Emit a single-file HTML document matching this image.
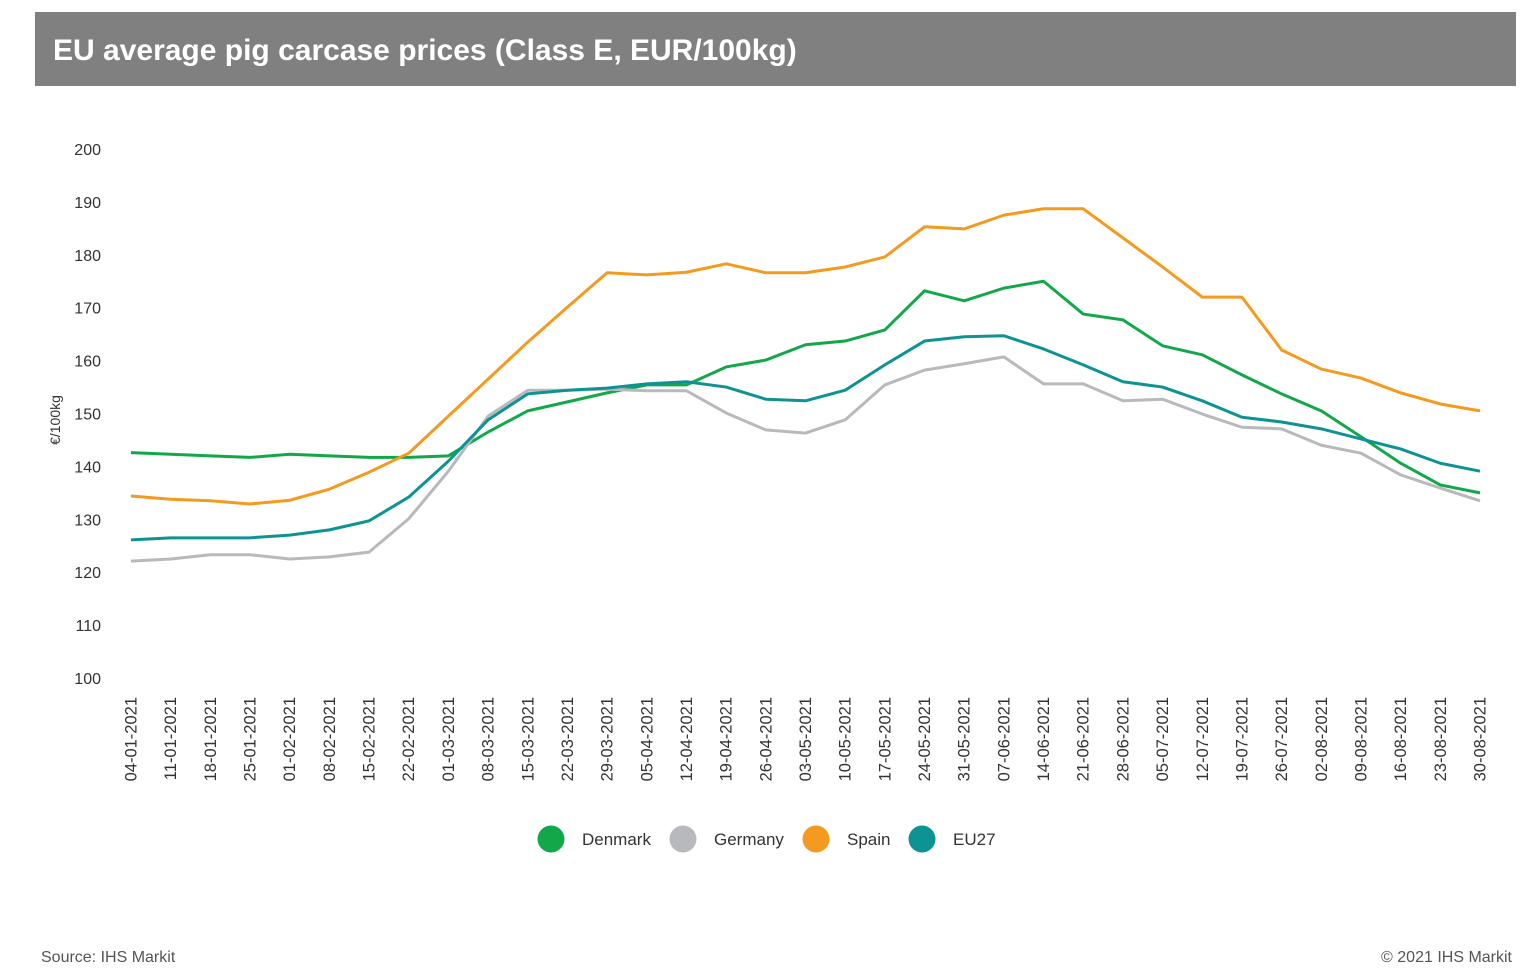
<!DOCTYPE html>
<html><head><meta charset="utf-8"><style>
body{margin:0;background:#fff;font-family:"Liberation Sans",Arial,sans-serif;}
svg{display:block}
</style></head><body>
<svg id="chart" width="1526" height="979" xmlns="http://www.w3.org/2000/svg">
<rect x="35" y="12" width="1481" height="74" fill="#808080"/>
<text x="53" y="60" fill="#fff" font-size="30" font-weight="bold" font-family="Liberation Sans, Arial, sans-serif">EU average pig carcase prices (Class E, EUR/100kg)</text>
<text transform="translate(60,420) rotate(-90)" text-anchor="middle" font-size="14" fill="#333">€/100kg</text>
<g id="yticks"></g><g id="xticks"></g><g id="lines"></g><g id="legend"></g>
<text x="41" y="962" font-size="16" fill="#555">Source: IHS Markit</text>
<text x="1512" y="962" font-size="16" fill="#555" text-anchor="end">© 2021 IHS Markit</text>
</svg>
<script>
const dates=["04-01-2021","11-01-2021","18-01-2021","25-01-2021","01-02-2021","08-02-2021","15-02-2021","22-02-2021","01-03-2021","08-03-2021","15-03-2021","22-03-2021","29-03-2021","05-04-2021","12-04-2021","19-04-2021","26-04-2021","03-05-2021","10-05-2021","17-05-2021","24-05-2021","31-05-2021","07-06-2021","14-06-2021","21-06-2021","28-06-2021","05-07-2021","12-07-2021","19-07-2021","26-07-2021","02-08-2021","09-08-2021","16-08-2021","23-08-2021","30-08-2021"];
const denmark=[142.6,142.3,142.0,141.7,142.3,142.0,141.7,141.7,142.0,146.5,150.5,152.2,153.9,155.4,155.4,158.8,160.1,163.0,163.7,165.8,173.2,171.3,173.7,175.0,168.8,167.7,162.8,161.1,157.3,153.7,150.5,145.6,140.6,136.5,135.0];
const germany=[122.1,122.5,123.3,123.3,122.5,122.9,123.8,130.1,139.1,149.5,154.4,154.4,154.6,154.3,154.3,150.1,146.9,146.3,148.8,155.4,158.2,159.4,160.7,155.6,155.6,152.4,152.7,149.9,147.4,147.1,144.0,142.5,138.4,135.9,133.5];
const spain=[134.4,133.8,133.5,132.9,133.6,135.7,138.9,142.5,149.5,156.5,163.5,170.1,176.6,176.2,176.7,178.3,176.6,176.6,177.7,179.6,185.3,184.9,187.5,188.7,188.7,183.2,177.7,172.0,172.0,162.0,158.4,156.7,153.9,151.8,150.5];
const eu27=[126.1,126.5,126.5,126.5,127.0,128.0,129.7,134.2,141.0,148.8,153.7,154.4,154.8,155.6,156.0,155.0,152.7,152.4,154.4,159.2,163.7,164.5,164.7,162.2,159.2,156.0,155.0,152.4,149.3,148.4,147.1,145.2,143.3,140.6,139.1];
const yTicks=[100,110,120,130,140,150,160,170,180,190,200];
const seriesNames=["Denmark","Germany","Spain","EU27"];
const seriesColors=["#12a84a","#b8b9bd","#f39a1f","#0e9394"];
const seriesData=[denmark,germany,spain,eu27];
const NS="http://www.w3.org/2000/svg";
const y=v=>678-(v-100)*5.29;
const x=i=>131+i*(1480-131)/(dates.length-1);
function mk(t,a,p){const e=document.createElementNS(NS,t);for(const k in a)e.setAttribute(k,a[k]);p.appendChild(e);return e;}
const yg=document.getElementById('yticks');
yTicks.forEach(v=>{const t=mk('text',{x:101,y:y(v)+6,'text-anchor':'end','font-size':16,fill:'#333'},yg);t.textContent=v;

});
const xg=document.getElementById('xticks');
dates.forEach((d,i)=>{const t=mk('text',{transform:`translate(${x(i)+5.5},697) rotate(-90)`,'text-anchor':'end','font-size':16.5,fill:'#333'},xg);t.textContent=d;

});
const lg=document.getElementById('lines');
seriesData.forEach((s,k)=>{const p=mk('polyline',{points:s.map((v,i)=>x(i)+','+y(v)).join(' '),fill:'none',stroke:seriesColors[k],'stroke-width':3,'stroke-linejoin':'round'},lg);

});
const leg=document.getElementById('legend');
const lx=[551,683,816,922];
seriesNames.forEach((n,k)=>{const g=mk('g',{},leg);


mk('circle',{cx:lx[k],cy:839,r:13.5,fill:seriesColors[k]},g);
const t=mk('text',{x:lx[k]+31,y:845,'font-size':17,fill:'#333'},g);t.textContent=n;});
</script>
</body></html>
